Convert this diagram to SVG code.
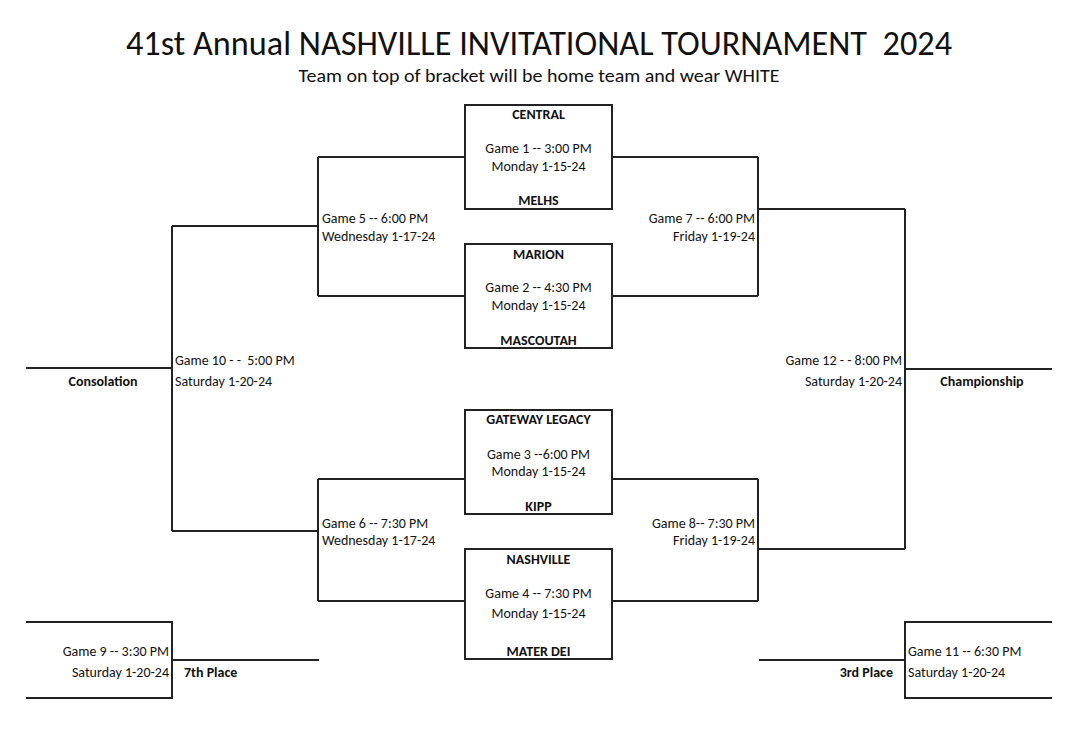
<svg xmlns="http://www.w3.org/2000/svg" width="1075" height="754" viewBox="0 0 1075 754">
<style>
text{font-family:Carlito,Lato,"Liberation Sans",sans-serif;fill:#111;white-space:pre;}
.t{font-size:34px;}
.s{font-size:17.5px;}
.n{font-size:14px;}
.b{font-size:14px;font-weight:bold;}
.c{text-anchor:middle;}
.r{text-anchor:end;}
.box{fill:none;stroke:#222;stroke-width:2;}
.ln{fill:none;stroke:#222;stroke-width:2;}
</style>
<rect width="1075" height="754" fill="#fff"/>
<text class="t c" x="539" y="55" textLength="826" lengthAdjust="spacingAndGlyphs">41st Annual NASHVILLE INVITATIONAL TOURNAMENT  2024</text>
<text class="s c" x="539" y="82" textLength="481" lengthAdjust="spacingAndGlyphs">Team on top of bracket will be home team and wear WHITE</text>

<g id="connectors">
<path class="ln" d="M318,157H465M612,157H758M318,296H465M612,296H758"/>
<path class="ln" d="M318,157V296M758,157V296"/>
<path class="ln" d="M318,479H465M612,479H758M318,601H465M612,601H758"/>
<path class="ln" d="M318,479V601M758,479V601"/>
<path class="ln" d="M172,226H318M172,531H318M172,226V531M26,368H172"/>
<path class="ln" d="M758,209H905M758,549H905M905,209V549M905,369H1052"/>
<path class="ln" d="M26,622H172V698H26M172,660H319"/>
<path class="ln" d="M1052,622H905V698H1052M905,660H759"/>
</g>

<g id="game1">
<rect class="box" x="465" y="105" width="147" height="104"/>
<text class="b c" x="538.5" y="119">CENTRAL</text>
<text class="n c" x="538.5" y="153">Game 1 -- 3:00 PM</text>
<text class="n c" x="538.5" y="171">Monday 1-15-24</text>
<text class="b c" x="538.5" y="205">MELHS</text>
</g>
<g id="game2">
<rect class="box" x="465" y="244" width="147" height="104"/>
<text class="b c" x="538.5" y="259">MARION</text>
<text class="n c" x="538.5" y="292">Game 2 -- 4:30 PM</text>
<text class="n c" x="538.5" y="310">Monday 1-15-24</text>
<text class="b c" x="538.5" y="345">MASCOUTAH</text>
</g>
<g id="game3">
<rect class="box" x="465" y="410" width="147" height="104"/>
<text class="b c" x="538.5" y="424">GATEWAY LEGACY</text>
<text class="n c" x="538.5" y="459">Game 3 --6:00 PM</text>
<text class="n c" x="538.5" y="476">Monday 1-15-24</text>
<text class="b c" x="538.5" y="511">KIPP</text>
</g>
<g id="game4">
<rect class="box" x="465" y="549" width="147" height="110"/>
<text class="b c" x="538.5" y="564">NASHVILLE</text>
<text class="n c" x="538.5" y="598">Game 4 -- 7:30 PM</text>
<text class="n c" x="538.5" y="618">Monday 1-15-24</text>
<text class="b c" x="538.5" y="656">MATER DEI</text>
</g>
<g id="game5">
<text class="n" x="322" y="223">Game 5 -- 6:00 PM</text>
<text class="n" x="322" y="241">Wednesday 1-17-24</text>
</g>
<g id="game6">
<text class="n" x="322" y="528">Game 6 -- 7:30 PM</text>
<text class="n" x="322" y="545">Wednesday 1-17-24</text>
</g>
<g id="game7">
<text class="n r" x="755" y="223">Game 7 -- 6:00 PM</text>
<text class="n r" x="755" y="241">Friday 1-19-24</text>
</g>
<g id="game8">
<text class="n r" x="755" y="528">Game 8-- 7:30 PM</text>
<text class="n r" x="755" y="545">Friday 1-19-24</text>
</g>
<g id="game10">
<text class="n" x="175" y="365">Game 10 - -  5:00 PM</text>
<text class="n" x="175" y="386">Saturday 1-20-24</text>
<text class="b c" x="103" y="386">Consolation</text>
</g>
<g id="game12">
<text class="n r" x="902" y="365">Game 12 - - 8:00 PM</text>
<text class="n r" x="902" y="386">Saturday 1-20-24</text>
<text class="b c" x="982" y="386">Championship</text>
</g>
<g id="game9">
<text class="n r" x="169" y="656">Game 9 -- 3:30 PM</text>
<text class="n r" x="169" y="677">Saturday 1-20-24</text>
<text class="b" x="184" y="677">7th Place</text>
</g>
<g id="game11">
<text class="n" x="908" y="656">Game 11 -- 6:30 PM</text>
<text class="n" x="908" y="677">Saturday 1-20-24</text>
<text class="b r" x="893" y="677">3rd Place</text>
</g>
</svg>
